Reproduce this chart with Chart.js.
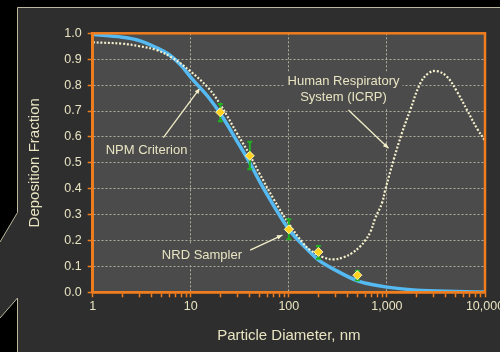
<!DOCTYPE html>
<html>
<head>
<meta charset="utf-8">
<script src="https://cdn.jsdelivr.net/npm/chart.js@4"></script>
<style>
  html, body { margin: 0; padding: 0; background: #000; }
  #wrap { width: 500px; height: 352px; }
</style>
</head>
<body>
<div id="wrap"><canvas id="chart" width="500" height="352"></canvas></div>
<script>
// Particle diameter (nm) / deposition fraction
const xTickLabels = ['1', '10', '100', '1,000', '10,000'];

// NPM criterion (blue curve)
const npmX = [1, 2, 3, 4.5, 6, 8, 10, 15, 20, 30, 40, 50, 70, 100, 150, 200, 300, 500, 700, 1000, 2000, 5000, 10000];
const npmY = [0.995, 0.985, 0.972, 0.944, 0.918, 0.875, 0.83, 0.755, 0.69, 0.58, 0.5, 0.43, 0.335, 0.243, 0.17, 0.125, 0.085, 0.044, 0.03, 0.02, 0.008, 0.003, 0.001];

// Human respiratory system, ICRP (dotted curve)
const icrpX = [1, 2, 3, 4.5, 6.5, 10, 15, 20, 30, 40, 50, 70, 100, 140, 165, 225, 285, 360, 440, 530, 600, 680, 760, 890, 961, 1170, 1420, 1730, 2190, 2660, 3240, 4100, 5180, 6550, 8280, 10000];
const icrpY = [0.965, 0.96, 0.95, 0.935, 0.905, 0.852, 0.79, 0.725, 0.61, 0.53, 0.46, 0.36, 0.265, 0.19, 0.163, 0.135, 0.127, 0.135, 0.151, 0.176, 0.2, 0.234, 0.286, 0.344, 0.395, 0.511, 0.614, 0.704, 0.807, 0.846, 0.854, 0.832, 0.775, 0.704, 0.633, 0.585];

// NRD sampler measurements with error bars
const sampleX = [20, 40, 100, 200, 500];
const sampleY = [0.695, 0.527, 0.243, 0.156, 0.066];
const sampleLow = [0.66, 0.475, 0.205, 0.13, 0.047];
const sampleHigh = [0.727, 0.581, 0.282, 0.179, 0.083];

const textColor = '#e8e4c2';
const orange = '#f07d1e';
const plotBg = '#4b4b4b';
const gridColor = '#b0ae9c';
const font = 'Arial, "Liberation Sans", sans-serif';

function toPoints(xs, ys) {
    return xs.map((x, i) => ({ x: x, y: ys[i] }));
}

// panel behind the chart, with the tab on the left edge
const backgroundPlugin = {
    id: 'background',
    beforeDraw(chart) {
        const ctx = chart.ctx;
        const a = chart.chartArea;
        ctx.save();
        ctx.fillStyle = '#000';
        ctx.fillRect(0, 0, chart.width, chart.height);

        ctx.beginPath();
        ctx.moveTo(17.5, 7.5);
        ctx.lineTo(chart.width, 7.5);
        ctx.lineTo(chart.width, chart.height);
        ctx.lineTo(17.5, chart.height);
        ctx.lineTo(17.5, 298);
        ctx.lineTo(0, 318);
        ctx.lineTo(0, 242);
        ctx.lineTo(17.5, 212.5);
        ctx.closePath();
        ctx.fillStyle = '#2e2e2e';
        ctx.fill();

        ctx.strokeStyle = '#bdb99c';
        ctx.lineWidth = 1;
        ctx.beginPath();
        ctx.moveTo(chart.width, 7.5);
        ctx.lineTo(17.5, 7.5);
        ctx.lineTo(17.5, 212.5);
        ctx.lineTo(0, 242);
        ctx.moveTo(0, 318);
        ctx.lineTo(17.5, 298);
        ctx.lineTo(17.5, chart.height);
        ctx.stroke();

        ctx.fillStyle = plotBg;
        ctx.fillRect(a.left, a.top, a.right - a.left, a.bottom - a.top);
        ctx.restore();
    },
    afterDraw(chart) {
        const ctx = chart.ctx;
        const a = chart.chartArea;
        ctx.save();
        ctx.strokeStyle = orange;
        ctx.lineWidth = 2.5;
        ctx.strokeRect(a.left, a.top, a.right - a.left, a.bottom - a.top);
        ctx.restore();
    }
};

// text labels with arrows, positioned in data units
const notes = [
    { lines: ['NPM Criterion'], tx: 3.54, ty: 0.549, from: [5.25, 0.597], to: [12.4, 0.788] },
    { lines: ['NRD Sampler'], tx: 13.0, ty: 0.144, from: [40.3, 0.163], to: [86, 0.221] },
    { lines: ['Human Respiratory', 'System (ICRP)'], tx: 361, ty: 0.782, from: [405, 0.704], to: [1038, 0.556] }
];

const notesPlugin = {
    id: 'notes',
    beforeDatasetsDraw(chart) {
        const ctx = chart.ctx;
        const xs = chart.scales.x, ys = chart.scales.y;
        ctx.save();
        ctx.font = '13px ' + font;
        ctx.textAlign = 'center';
        ctx.textBaseline = 'middle';
        notes.forEach(n => {
            const cx = xs.getPixelForValue(n.tx);
            const cy = ys.getPixelForValue(n.ty);
            const w = Math.max(...n.lines.map(l => ctx.measureText(l).width)) + 6;
            const h = n.lines.length * 16 + 4;
            ctx.fillStyle = plotBg;
            ctx.fillRect(cx - w / 2, cy - h / 2, w, h);
            ctx.fillStyle = textColor;
            n.lines.forEach((l, i) => {
                ctx.fillText(l, cx, cy + (i - (n.lines.length - 1) / 2) * 16);
            });

            const x1 = xs.getPixelForValue(n.from[0]), y1 = ys.getPixelForValue(n.from[1]);
            const x2 = xs.getPixelForValue(n.to[0]), y2 = ys.getPixelForValue(n.to[1]);
            ctx.strokeStyle = '#f2eec8';
            ctx.fillStyle = '#f2eec8';
            ctx.lineWidth = 1.3;
            ctx.beginPath();
            ctx.moveTo(x1, y1);
            ctx.lineTo(x2, y2);
            ctx.stroke();
            const ang = Math.atan2(y2 - y1, x2 - x1);
            ctx.beginPath();
            ctx.moveTo(x2, y2);
            ctx.lineTo(x2 - 6 * Math.cos(ang - 0.4), y2 - 6 * Math.sin(ang - 0.4));
            ctx.lineTo(x2 - 6 * Math.cos(ang + 0.4), y2 - 6 * Math.sin(ang + 0.4));
            ctx.closePath();
            ctx.fill();
        });
        ctx.restore();
    },
    // error bars go under the diamonds (dataset 0 is drawn last)
    beforeDatasetDraw(chart, args) {
        if (args.index !== 0) return;
        const ctx = chart.ctx;
        const xs = chart.scales.x, ys = chart.scales.y;
        ctx.save();
        ctx.strokeStyle = '#22b022';
        ctx.lineWidth = 2;
        sampleX.forEach((x, i) => {
            const px = xs.getPixelForValue(x);
            const top = ys.getPixelForValue(sampleHigh[i]);
            const bot = ys.getPixelForValue(sampleLow[i]);
            ctx.beginPath();
            ctx.moveTo(px, top);
            ctx.lineTo(px, bot);
            ctx.moveTo(px - 2.5, top);
            ctx.lineTo(px + 2.5, top);
            ctx.moveTo(px - 2.5, bot);
            ctx.lineTo(px + 2.5, bot);
            ctx.stroke();
        });
        ctx.restore();
    }
};

function isDecade(v) {
    const l = Math.log10(v);
    return Math.abs(l - Math.round(l)) < 1e-6;
}

new Chart(document.getElementById('chart'), {
    type: 'scatter',
    data: {
        datasets: [
            {
                label: 'NRD Sampler',
                data: toPoints(sampleX, sampleY),
                pointStyle: 'rectRot',
                pointRadius: 4.5,
                backgroundColor: '#ffd21e',
                borderColor: '#fff6b4',
                borderWidth: 1,
                showLine: false
            },
            {
                label: 'Human Respiratory System (ICRP)',
                data: toPoints(icrpX, icrpY),
                showLine: true,
                borderColor: '#f4f0cc',
                borderWidth: 2.2,
                borderDash: [2, 1.8],
                pointRadius: 0,
                tension: 0.4
            },
            {
                label: 'NPM Criterion',
                data: toPoints(npmX, npmY),
                showLine: true,
                borderColor: '#56baf2',
                borderWidth: 3.5,
                pointRadius: 0,
                cubicInterpolationMode: 'monotone'
            }
        ]
    },
    options: {
        responsive: false,
        animation: false,
        layout: { padding: { left: 0, right: 15, top: 33.3, bottom: 0 } },
        plugins: {
            legend: { display: false },
            tooltip: { enabled: false }
        },
        scales: {
            x: {
                type: 'logarithmic',
                min: 1,
                max: 10000,
                afterFit(scale) {
                    scale.height = 59.7;
                    scale.paddingLeft = 0;
                    scale.paddingRight = 0;
                },
                afterBuildTicks(scale) {
                    // decades plus 2..9 minor marks in each decade
                    const t = [];
                    for (let d = 1; d < 10000; d *= 10) {
                        for (let k = 1; k < 10; k++) t.push({ value: d * k });
                    }
                    t.push({ value: 10000 });
                    scale.ticks = t;
                },
                ticks: {
                    autoSkip: false,
                    maxRotation: 0,
                    color: textColor,
                    font: { family: font, size: 12.5 },
                    padding: 2,
                    callback(v) {
                        if (!isDecade(v)) return '';
                        return xTickLabels[Math.round(Math.log10(v))];
                    }
                },
                grid: {
                    color: ctx => (ctx.tick && isDecade(ctx.tick.value) ? gridColor : 'rgba(0,0,0,0)'),
                    lineWidth: 1,
                    tickColor: orange,
                    tickLength: 5,
                    tickWidth: 1.5
                },
                border: { color: orange, width: 2.5, dash: [2, 2] },
                title: {
                    display: true,
                    text: 'Particle Diameter, nm',
                    color: textColor,
                    font: { family: font, size: 15 },
                    padding: { top: 0, bottom: 7.3 }
                }
            },
            y: {
                min: 0,
                max: 1,
                afterFit(scale) {
                    scale.width = 92.7;
                },
                ticks: {
                    stepSize: 0.1,
                    color: textColor,
                    font: { family: font, size: 12.5 },
                    padding: 6,
                    callback: v => v.toFixed(1)
                },
                grid: {
                    color: gridColor,
                    lineWidth: 1,
                    tickColor: orange,
                    tickLength: 5,
                    tickWidth: 1.5
                },
                border: { color: orange, width: 2.5, dash: [2, 2] },
                title: {
                    display: true,
                    text: 'Deposition Fraction',
                    color: textColor,
                    font: { family: font, size: 15 },
                    padding: { top: 26, bottom: 0 }
                }
            }
        }
    },
    plugins: [backgroundPlugin, notesPlugin]
});
</script>
</body>
</html>
